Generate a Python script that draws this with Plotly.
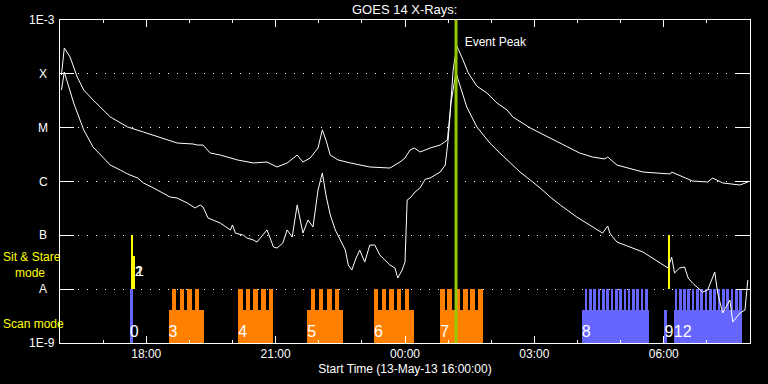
import math
import plotly.graph_objects as go
from datetime import datetime, timedelta

# ---------------- data ----------------
# GOES 14 long channel (1-8 A), times on 13/14 May 2013 (HH:MM, before 16:00 => next day)
long_times = ["16:02", "16:06", "16:14", "16:24", "16:33", "16:46", "17:10", "17:34", "17:56",
              "18:20", "18:29", "18:43", "19:05", "19:11", "19:19", "19:29", "19:43", "20:07",
              "20:29", "20:48", "21:02", "21:16", "21:30", "21:38", "21:48", "21:59", "22:05",
              "22:10", "22:16", "22:27", "22:44", "23:11", "23:39", "23:53", "00:00", "00:07",
              "00:13", "00:21", "00:35", "00:49", "00:59", "01:03", "01:07", "01:12", "01:19",
              "01:28", "01:40", "01:54", "02:08", "02:22", "02:30", "02:44", "02:54", "03:08",
              "03:22", "03:36", "04:03", "04:21", "04:38", "04:42", "04:55", "05:31", "06:09",
              "06:11", "06:40", "07:01", "07:08", "07:22", "07:46", "07:57"]
long_flux = [9.5e-5, 3.02e-4, 2.06e-4, 8.7e-5, 5.0e-5, 3.27e-5, 1.58e-5, 1.03e-5, 8.3e-6,
             6.43e-6, 5.9e-6, 5.19e-6, 4.97e-6, 4.76e-6, 4.76e-6, 3.38e-6, 3.10e-6, 2.51e-6,
             2.21e-6, 2.30e-6, 1.86e-6, 2.21e-6, 3.10e-6, 2.30e-6, 2.73e-6, 4.19e-6, 9.1e-6,
             5.9e-6, 3.10e-6, 2.51e-6, 2.21e-6, 1.86e-6, 1.78e-6, 2.30e-6, 2.73e-6, 3.85e-6,
             4.19e-6, 3.53e-6, 4.19e-6, 4.76e-6, 5.9e-6, 2.13e-5, 1.18e-4, 3.29e-4, 2.06e-4,
             1.04e-4, 5.9e-5, 4.4e-5, 2.87e-5, 2.13e-5, 1.58e-5, 1.22e-5, 9.9e-6, 7.96e-6,
             6.43e-6, 5.19e-6, 3.38e-6, 2.85e-6, 2.62e-6, 2.85e-6, 2.02e-6, 1.50e-6, 1.38e-6,
             1.50e-6, 1.02e-6, 9.8e-7, 1.16e-6, 9.4e-7, 8.6e-7, 9.8e-7]

# GOES 14 short channel (0.5-4 A)
short_times = ["16:02", "16:06", "16:19", "16:33", "16:46", "17:10", "17:24", "17:34", "17:48",
               "17:56", "18:10", "18:20", "18:33", "18:43", "18:57", "19:08", "19:15", "19:19",
               "19:26", "19:43", "19:57", "20:00", "20:04", "20:15", "20:20", "20:29", "20:34",
               "20:48", "20:57", "21:02", "21:10", "21:16", "21:23", "21:30", "21:38", "21:45",
               "21:52", "21:59", "22:05", "22:10", "22:16", "22:23", "22:30", "22:37", "22:41",
               "22:46", "22:52", "22:57", "23:04", "23:11", "23:18", "23:25", "23:32", "23:39",
               "23:46", "23:50", "23:56", "00:00", "00:03", "00:07", "00:14", "00:21", "00:28",
               "00:35", "00:49", "00:56", "01:00", "01:04", "01:08", "01:11", "01:14", "01:26",
               "01:40", "01:58", "02:12", "02:26", "02:40", "02:54", "03:08", "03:22", "03:36",
               "03:59", "04:21", "04:35", "04:42", "04:45", "04:49", "04:55", "05:31", "05:55",
               "06:06", "06:11", "06:15", "06:22", "06:29", "06:34", "06:40", "06:54", "07:01",
               "07:11", "07:15", "07:22", "07:32", "07:36", "07:46", "07:53", "07:57"]
short_flux = [5.0e-5, 1.08e-4, 2.87e-5, 9.1e-6, 4.37e-6, 2.02e-6, 1.63e-6, 1.38e-6, 1.16e-6,
              9.4e-7, 7.6e-7, 6.38e-7, 5.15e-7, 4.93e-7, 3.98e-7, 3.22e-7, 3.66e-7, 3.36e-7,
              2.10e-7, 1.69e-7, 1.26e-7, 1.56e-7, 1.10e-7, 1.01e-7, 8.9e-8, 8.2e-8, 7.5e-8,
              1.26e-7, 6.07e-8, 5.8e-8, 7.2e-8, 1.26e-7, 9.3e-8, 3.66e-7, 1.10e-7, 1.93e-7,
              1.43e-7, 6.95e-7, 1.44e-6, 5.61e-7, 2.39e-7, 1.26e-7, 8.2e-8, 5.33e-8, 2.81e-8,
              2.27e-8, 3.79e-8, 5.33e-8, 3.19e-8, 6.6e-8, 6.6e-8, 4.3e-8, 3.48e-8, 2.81e-8,
              2.47e-8, 1.61e-8, 2.27e-8, 3.19e-8, 4.53e-7, 4.93e-7, 6.38e-7, 7.6e-7, 1.1e-6,
              1.16e-6, 1.50e-6, 2.02e-6, 5.9e-6, 2.87e-5, 6.2e-5, 1.08e-4, 7.7e-5, 2.42e-5,
              1.03e-5, 5.19e-6, 3.38e-6, 2.21e-6, 1.50e-6, 1.07e-6, 7.6e-7, 5.15e-7, 3.66e-7,
              2.19e-7, 1.43e-7, 1.10e-7, 1.49e-7, 1.10e-7, 9.3e-8, 7.5e-8, 4.9e-8, 3.06e-8,
              2.47e-8, 3.95e-8, 2.0e-8, 2.47e-8, 2.58e-8, 1.61e-8, 1.30e-8, 8.85e-9, 9.6e-9,
              2.08e-8, 8.5e-9, 3.6e-9, 6.3e-9, 2.45e-9, 3.6e-9, 4.1e-9, 1.48e-8]

# Scan-mode observation blocks (label, start, end, base-block top flux, kind)
scan_labels = ["0", "3", "4", "5", "6", "7", "8", "9", "12"]
scan_start = ["17:37", "18:31", "20:08", "21:44", "23:17", "00:49", "04:06", "06:01", "06:14"]
scan_end = ["17:41", "19:21", "20:57", "22:34", "00:12", "01:48", "05:40", "06:05", "07:49"]
scan_top = [1e-8, 4.1e-9, 4.1e-9, 4.1e-9, 4.1e-9, 4.1e-9, 4.1e-9, 4.1e-9, 4.1e-9]
scan_kind = ["blue", "orange", "orange", "orange", "orange", "orange", "blue", "blue", "blue"]

# Raster "teeth" within the scan blocks (start times), reaching the A level
orange_teeth = ["18:36", "18:47", "18:57", "19:08",
                "20:08", "20:19", "20:29", "20:40", "20:51",
                "21:49", "22:00", "22:12", "22:22",
                "23:17", "23:28", "23:38", "23:49", "00:00",
                "00:49", "00:59", "01:10", "01:21", "01:31", "01:42"]
blue_teeth = ["04:10", "04:16", "04:22", "04:28", "04:34", "04:40", "04:46", "04:52",
              "04:58", "05:04", "05:10", "05:16", "05:22", "05:28", "05:34",
              "06:15", "06:21", "06:27", "06:33", "06:39", "06:45", "06:51", "06:57",
              "07:03", "07:09", "07:15", "07:21", "07:27", "07:33", "07:39", "07:45"]
teeth_top = 1e-8

# Sit & stare observations
ss_start = ["17:39", "17:39", "06:06"]
ss_end = ["17:42", "17:45", "06:09"]
ss_top = [1e-7, 4.1e-8, 1e-7]
ss_labels = ["1", "2"]
ss_label_times = ["17:45", "17:44"]
ss_label_flux = [2.1e-8, 2.1e-8]

event_peak = "01:11"

y_tickvals = [1e-9, 1e-8, 1e-7, 1e-6, 1e-5, 1e-4, 1e-3]
y_ticktext = ["1E-9", "A", "B", "C", "M", "X", "1E-3"]
x_tickvals = ["18:00", "21:00", "00:00", "03:00", "06:00"]
x_ticktext = ["18:00", "21:00", "00:00", "03:00", "06:00"]

# ---------------- helpers ----------------
def T(hm):
    h, m = map(int, hm.split(":"))
    d = datetime(2013, 5, 13, h, m)
    if h < 16:
        d += timedelta(days=1)
    return d

def ms(a, b):
    return (T(b) - T(a)).total_seconds() * 1000.0

WHITE = "#FFFFFF"
ORANGE = "#FF8000"
BLUE = "#6666FF"
YELLOW = "#FFFF00"
GREEN = "#96C800"
FONT = "Liberation Sans"

fig = go.Figure()
ymin = 1e-9

# scan base blocks
for kind, col in (("orange", ORANGE), ("blue", BLUE)):
    idx = [i for i, k in enumerate(scan_kind) if k == kind]
    fig.add_trace(go.Bar(
        x=[T(scan_start[i]) for i in idx],
        y=[scan_top[i] - ymin for i in idx],
        base=[ymin] * len(idx),
        width=[ms(scan_start[i], scan_end[i]) for i in idx],
        offset=0, marker=dict(color=col, line=dict(width=0)), hoverinfo="skip"))

# teeth
fig.add_trace(go.Bar(
    x=[T(s) for s in orange_teeth], y=[teeth_top - ymin] * len(orange_teeth),
    base=[ymin] * len(orange_teeth), width=[6 * 60000] * len(orange_teeth), offset=0,
    marker=dict(color=ORANGE, line=dict(width=0)), hoverinfo="skip"))
fig.add_trace(go.Bar(
    x=[T(s) for s in blue_teeth], y=[teeth_top - ymin] * len(blue_teeth),
    base=[ymin] * len(blue_teeth), width=[3.7 * 60000] * len(blue_teeth), offset=0,
    marker=dict(color=BLUE, line=dict(width=0)), hoverinfo="skip"))

# sit & stare
fig.add_trace(go.Bar(
    x=[T(s) for s in ss_start], y=[t - 1e-8 for t in ss_top], base=[1e-8] * len(ss_top),
    width=[ms(a, b) for a, b in zip(ss_start, ss_end)], offset=0,
    marker=dict(color=YELLOW, line=dict(width=0)), hoverinfo="skip"))

# labels of observations
fig.add_trace(go.Scatter(
    x=[T(s) for s in scan_start], y=[1.55e-9] * len(scan_start), mode="text",
    text=scan_labels, textposition="middle right",
    textfont=dict(color=WHITE, size=16, family=FONT), hoverinfo="skip"))
fig.add_trace(go.Scatter(
    x=[T(s) for s in ss_label_times], y=ss_label_flux, mode="text",
    text=ss_labels, textposition="middle right",
    textfont=dict(color=WHITE, size=15, family=FONT), hoverinfo="skip"))

# light curves
fig.add_trace(go.Scatter(x=[T(s) for s in long_times], y=long_flux, mode="lines",
                         line=dict(color=WHITE, width=1), hoverinfo="skip"))
fig.add_trace(go.Scatter(x=[T(s) for s in short_times], y=short_flux, mode="lines",
                         line=dict(color=WHITE, width=1), hoverinfo="skip"))

# event peak
fig.add_trace(go.Scatter(x=[T(event_peak), T(event_peak)], y=[1e-9, 1e-3], mode="lines",
                         line=dict(color=GREEN, width=3), hoverinfo="skip"))
fig.add_trace(go.Scatter(x=[T(event_peak) + timedelta(minutes=12)], y=[3.75e-4], mode="text",
                         text=["Event Peak"], textposition="middle right",
                         textfont=dict(color=WHITE, size=12, family=FONT), hoverinfo="skip"))

# y-axis labels (numbers right-aligned at the axis, class letters set further left)
annotations = []
for v, txt in zip(y_tickvals, y_ticktext):
    if txt.startswith("1E"):
        annotations.append(dict(text=txt, xref="paper", yref="y", x=-0.004, y=math.log10(v),
                                xanchor="right", yanchor="middle", showarrow=False,
                                font=dict(color=WHITE, size=12, family=FONT)))
    else:
        annotations.append(dict(text=txt, xref="paper", yref="y", x=-0.0246, y=math.log10(v),
                                xanchor="center", yanchor="middle", showarrow=False,
                                font=dict(color=WHITE, size=12, family=FONT)))
annotations += [
    dict(text="Sit & Stare<br>\u2002\u2002mode", xref="paper", yref="paper", x=-0.085, y=0.241,
         xanchor="left", yanchor="middle", align="left", showarrow=False,
         font=dict(color=YELLOW, size=12, family=FONT)),
    dict(text="Scan mode", xref="paper", yref="paper", x=-0.085, y=0.059,
         xanchor="left", yanchor="middle", showarrow=False,
         font=dict(color=YELLOW, size=12, family=FONT)),
]

fig.update_layout(
    width=768, height=384,
    margin=dict(l=60, r=18, t=20, b=41, autoexpand=False),
    paper_bgcolor="black", plot_bgcolor="black",
    barmode="overlay", bargap=0, showlegend=False,
    font=dict(family=FONT, size=12, color=WHITE),
    title=dict(text="GOES 14 X-Rays:", x=0.527, xanchor="center", y=0.975, yanchor="middle",
               font=dict(family=FONT, size=13, color=WHITE)),
    annotations=annotations,
)

fig.update_xaxes(
    type="date", range=[T("16:00"), T("16:00") + timedelta(hours=16)],
    tickmode="array", tickvals=[T(s) for s in x_tickvals], ticktext=x_ticktext,
    ticks="inside", ticklen=7, tickcolor=WHITE, tickwidth=1,
    minor=dict(ticks="inside", ticklen=3, tickcolor=WHITE, dtick=3600000,
               tick0=T("16:00"), showgrid=False),
    showline=True, linecolor=WHITE, linewidth=1, mirror="ticks",
    showgrid=False, zeroline=False,
    tickfont=dict(family=FONT, size=12, color=WHITE),
    title=dict(text="Start Time (13-May-13 16:00:00)", standoff=4,
               font=dict(family=FONT, size=12, color=WHITE)),
)
fig.update_yaxes(
    type="log", range=[-9, -3],
    tickmode="array", tickvals=y_tickvals, showticklabels=False,
    ticks="inside", ticklen=14, tickcolor=WHITE, tickwidth=1,
    showline=True, linecolor=WHITE, linewidth=1, mirror="ticks",
    showgrid=True, gridcolor=WHITE, gridwidth=1, griddash="1px,8px",
    zeroline=False,
)

fig.write_html("out.html", config={"displayModeBar": False},
               post_script="document.body.style.margin='0px';")
